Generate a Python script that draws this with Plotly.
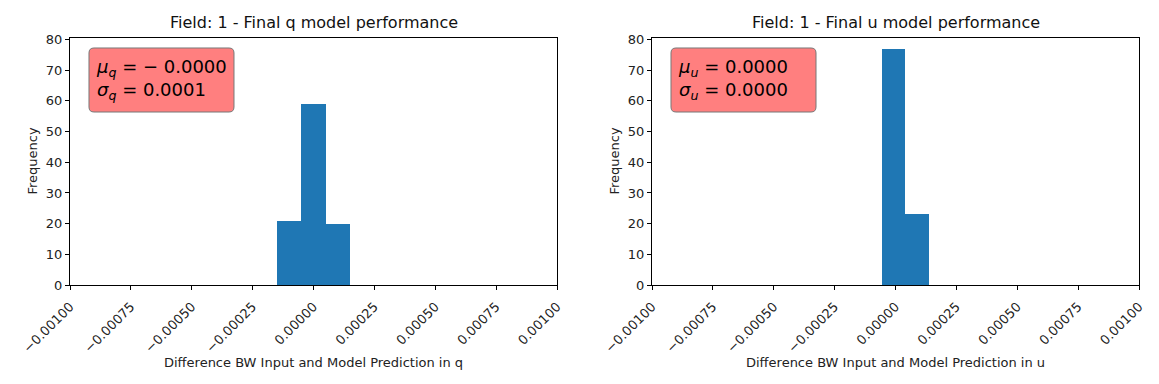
import plotly.graph_objects as go

# histogram bins
q_edges = [-0.00015, -0.00005, 0.00005, 0.00015]
q_counts = [21, 59, 20]
u_edges = [-0.000055, 0.000041, 0.000139]
u_counts = [77, 23]

x_ticks = [-0.001, -0.00075, -0.0005, -0.00025, 0.0, 0.00025, 0.0005, 0.00075, 0.001]
x_ticktext = [f"{v:.5f}".replace("-", "\u2212") for v in x_ticks]
y_ticks = [0, 10, 20, 30, 40, 50, 60, 70, 80]

titles = ["Field: 1 - Final q model performance", "Field: 1 - Final u model performance"]
xlabels = ["Difference BW Input and Model Prediction in q",
           "Difference BW Input and Model Prediction in u"]
stats = [
    "<i>μ<sub>q</sub></i> = \u2212 0.0000<br><i>σ<sub>q</sub></i> = 0.0001",
    "<i>μ<sub>u</sub></i> = 0.0000<br><i>σ<sub>u</sub></i> = 0.0000",
]

FONT = "DejaVu Sans"
OFF = 8  # page body margin
W, H = 1159 - OFF, 384 - OFF


def px(x):
    return (x - OFF) / W


def py(y):
    return 1 - (y - OFF) / H


def rounded_box(x0, y0, x1, y1, r):
    # path in paper coords, corners given in page pixels
    pts = [
        ("M", [(x0 + r, y0)]), ("L", [(x1 - r, y0)]), ("Q", [(x1, y0), (x1, y0 + r)]),
        ("L", [(x1, y1 - r)]), ("Q", [(x1, y1), (x1 - r, y1)]),
        ("L", [(x0 + r, y1)]), ("Q", [(x0, y1), (x0, y1 - r)]),
        ("L", [(x0, y0 + r)]), ("Q", [(x0, y0), (x0 + r, y0)]),
    ]
    out = []
    for cmd, xy in pts:
        out.append(cmd + " " + " ".join(f"{px(a):.5f},{py(b):.5f}" for a, b in xy))
    return " ".join(out) + " Z"


def bars(edges, counts):
    centers = [(a + b) / 2 for a, b in zip(edges[:-1], edges[1:])]
    widths = [b - a for a, b in zip(edges[:-1], edges[1:])]
    return centers, widths


fig = go.Figure()
for i, (edges, counts) in enumerate([(q_edges, q_counts), (u_edges, u_counts)]):
    c, w = bars(edges, counts)
    fig.add_trace(go.Bar(
        x=c, y=counts, width=w,
        marker=dict(color="#1f77b4", line=dict(width=0)),
        xaxis="x" if i == 0 else "x2",
        yaxis="y" if i == 0 else "y2",
        showlegend=False,
    ))

# plot areas in page pixels (left, right)
areas = [(70, 557), (652, 1139)]
top, bottom = 38, 285

axis_common = dict(
    showline=True, linecolor="black", linewidth=1, mirror=True,
    ticks="outside", ticklen=4, tickcolor="black", showgrid=False, zeroline=False,
    automargin=False, tickfont=dict(family=FONT, size=13, color="#222"),
)

layout = dict(
    width=W, height=H, margin=dict(l=0, r=0, t=0, b=0),
    plot_bgcolor="white", paper_bgcolor="white",
    bargap=0, font=dict(family=FONT, color="#222"),
    annotations=[], shapes=[],
)

for i, (x0, x1) in enumerate(areas):
    sx = "" if i == 0 else "2"
    layout["xaxis" + sx] = dict(
        axis_common, domain=[px(x0), px(x1)], range=[-0.001, 0.001],
        tickvals=x_ticks, ticktext=x_ticktext, tickangle=-45,
        ticklabelstandoff=4, anchor="y" + sx,
    )
    layout["yaxis" + sx] = dict(
        axis_common, domain=[py(bottom), py(top)], range=[0, 80.5], tickvals=y_ticks,
        anchor="x" + sx,
    )
    layout["shapes"].append(dict(
        type="path", xref="paper", yref="paper", layer="above",
        path=rounded_box(x0 + 19, 48, x0 + 164, 112, 5),
        fillcolor="rgba(255,0,0,0.5)", line=dict(color="#777", width=1),
    ))
    layout["annotations"] += [
        dict(text=titles[i], xref="paper", yref="paper",
             x=px((x0 + x1) / 2), y=py(22), xanchor="center", yanchor="middle",
             showarrow=False, font=dict(family=FONT, size=16, color="#111")),
        dict(text=xlabels[i], xref="paper", yref="paper",
             x=px((x0 + x1) / 2), y=py(362), xanchor="center", yanchor="middle",
             showarrow=False, font=dict(family=FONT, size=13, color="#222")),
        dict(text="Frequency", xref="paper", yref="paper", textangle=-90,
             x=px(x0 - 38), y=py((top + bottom) / 2), xanchor="center", yanchor="middle",
             showarrow=False, font=dict(family=FONT, size=13, color="#222")),
        dict(text=stats[i], xref="paper", yref="paper",
             x=px(x0 + 24), y=py(80), xanchor="left", yanchor="middle",
             align="left", showarrow=False,
             font=dict(family=FONT, size=18, color="black")),
    ]

fig.update_layout(**layout)
fig.write_html("out.html")
